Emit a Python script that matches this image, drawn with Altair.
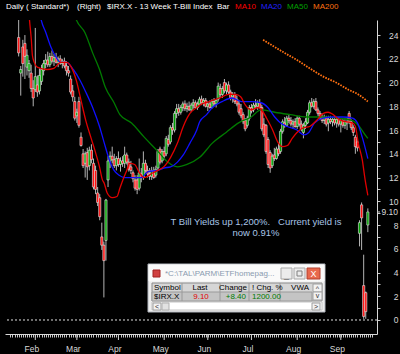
import altair as alt
import pandas as pd

# ---------------- data (trading-day index 0 = 1 Feb 2008) ----------------
FIRST_DAY = -8
opens = [23.8, 20.8, 23.0, 23.3, 21.3, 21.0, 20.8, 19.5,
         19.4, 19.8, 19.3, 20.1, 21.0, 21.6, 21.9, 21.5, 22.2, 21.8,
         22.1, 21.7, 22.0, 21.6, 21.8, 21.4, 21.0, 20.3, 19.3, 18.4,
         17.2, 18.4, 15.4, 14.0, 13.2, 14.1, 13.0, 14.3, 13.2, 12.6,
         10.7, 10.3, 7.0, 6.3, 6.7, 11.8, 13.4, 13.8, 13.5, 13.0,
         13.6, 13.1, 13.4, 13.2, 13.9, 13.3, 12.9, 12.4, 11.8, 11.8,
         11.1, 12.3, 12.0, 13.2, 12.6, 12.3, 12.1, 12.6, 12.2, 12.8,
         14.4, 13.4, 14.2, 14.0, 15.2, 15.0, 16.2, 16.0, 17.4, 17.8,
         17.5, 17.9, 18.2, 17.8, 18.0, 17.7, 18.1, 18.3, 17.9, 18.2,
         18.6, 18.3, 18.5, 18.0, 18.2, 17.9, 18.4, 18.2, 18.6, 19.5,
         19.0, 20.0, 19.3, 19.8, 19.2, 18.8, 19.0, 18.6, 18.2, 17.8,
         17.3, 16.8, 16.4, 17.0, 17.9, 17.7, 18.1, 18.0, 18.3, 17.9,
         16.5, 16.4, 15.2, 14.1, 13.0, 13.9, 13.6, 14.4, 14.2, 15.9,
         16.6, 16.4, 17.0, 16.8, 16.5, 16.7, 16.3, 17.0, 16.5, 15.8,
         16.4, 16.6, 17.5, 18.3, 18.0, 18.4, 17.7, 17.4, 17.1, 16.8,
         17.0, 16.6, 16.9, 16.7, 16.9, 16.6, 16.9, 16.5, 16.8, 16.4,
         16.7, 17.4, 16.7, 16.2, 15.4, 15.0, 7.3, 9.7, 2.9, 2.3, 8.0]
highs = [25.5, 21.4, 23.6, 24.0, 22.8, 21.9, 21.5, 20.2,
         24.6, 20.6, 21.2, 21.5, 21.9, 22.4, 22.6, 22.5, 22.7, 22.4,
         22.5, 22.2, 22.3, 22.0, 22.1, 21.8, 21.4, 20.6, 19.8, 18.8,
         17.8, 18.8, 15.8, 14.4, 14.2, 14.5, 14.6, 14.8, 13.6, 13.0,
         11.2, 10.6, 8.2, 6.6, 10.2, 13.8, 14.2, 14.6, 14.0, 13.8,
         14.2, 13.7, 13.8, 14.6, 14.1, 13.6, 13.4, 12.6, 12.2, 12.2,
         13.6, 12.8, 14.2, 13.5, 13.0, 12.8, 12.9, 12.9, 13.0, 14.4,
         14.6, 14.4, 14.6, 15.5, 15.6, 16.4, 16.6, 17.6, 18.2, 18.2,
         18.1, 18.4, 18.5, 18.3, 18.4, 18.3, 18.6, 18.5, 18.4, 18.8,
         18.9, 18.7, 18.7, 18.4, 18.5, 18.6, 18.7, 18.6, 20.0, 19.9,
         19.7, 20.3, 20.0, 20.1, 19.4, 19.2, 19.2, 18.9, 18.5, 18.2,
         17.5, 17.0, 17.2, 18.1, 18.2, 18.3, 18.6, 18.5, 18.6, 18.1,
         17.0, 16.5, 15.4, 14.3, 14.0, 14.5, 14.6, 14.9, 16.1, 16.9,
         17.1, 17.2, 17.3, 17.1, 16.9, 17.0, 17.2, 17.2, 16.8, 16.6,
         17.0, 17.7, 18.5, 18.7, 18.6, 18.7, 17.9, 17.6, 17.4, 17.3,
         17.2, 17.2, 17.2, 17.1, 17.2, 17.1, 17.1, 17.0, 17.0, 17.0,
         17.0, 17.6, 16.9, 16.4, 15.6, 15.2, 8.4, 9.9, 5.5, 2.4, 9.4]
lows = [22.2, 18.9, 20.5, 20.3, 20.6, 20.4, 19.2, 18.0,
        19.2, 18.8, 19.0, 19.8, 20.6, 21.2, 21.3, 21.3, 21.6, 21.4,
        21.6, 21.3, 21.5, 21.2, 21.2, 20.6, 20.5, 19.0, 18.4, 16.8,
        16.6, 16.2, 14.6, 12.8, 12.0, 11.8, 12.6, 13.2, 11.0, 10.6,
        9.6, 8.4, 5.9, 1.9, 5.0, 11.2, 12.8, 13.2, 12.8, 12.6,
        12.9, 12.5, 12.9, 12.8, 13.1, 12.5, 12.3, 11.6, 10.9, 10.6,
        10.9, 11.6, 11.8, 12.4, 12.0, 11.8, 11.8, 11.9, 12.0, 12.6,
        13.1, 13.2, 13.5, 13.8, 14.6, 14.8, 15.6, 15.8, 17.0, 17.2,
        17.3, 17.6, 17.6, 17.5, 17.6, 17.5, 17.8, 17.8, 17.7, 18.0,
        18.1, 18.0, 17.9, 17.6, 17.8, 17.8, 18.0, 17.9, 18.4, 18.8,
        18.7, 19.1, 19.0, 19.0, 18.5, 18.3, 18.2, 18.0, 17.3, 17.0,
        16.5, 15.9, 16.2, 16.8, 17.4, 17.5, 17.8, 17.7, 17.8, 15.9,
        15.4, 14.0, 12.8, 12.4, 12.8, 13.4, 13.5, 13.8, 14.0, 15.7,
        16.2, 16.3, 16.6, 16.3, 16.1, 16.2, 16.1, 16.3, 15.9, 15.3,
        16.1, 16.5, 17.3, 17.9, 17.8, 17.6, 17.2, 16.9, 16.6, 16.5,
        16.3, 15.9, 16.5, 16.3, 16.4, 16.2, 16.3, 15.8, 16.2, 16.1,
        16.0, 16.5, 16.0, 15.5, 14.0, 14.2, 6.2, 5.9, 0.1, 0.1, 7.4]
closes = [22.5, 21.1, 21.6, 22.2, 22.3, 21.6, 19.5, 18.7,
          20.5, 19.2, 20.6, 21.1, 21.6, 21.9, 21.5, 22.2, 21.8, 22.1,
          21.7, 22.0, 21.6, 21.8, 21.4, 21.0, 20.8, 19.2, 18.8, 17.0,
          17.5, 16.4, 14.7, 13.0, 14.0, 12.9, 14.3, 13.5, 11.2, 11.0,
          9.9, 8.7, 6.3, 5.0, 10.1, 13.4, 13.8, 13.5, 13.0, 13.6,
          13.1, 13.4, 13.2, 13.9, 13.3, 12.7, 12.6, 11.9, 11.1, 11.0,
          12.4, 12.0, 13.2, 12.6, 12.3, 12.1, 12.6, 12.0, 12.7, 14.2,
          13.3, 14.2, 13.8, 15.3, 14.8, 16.2, 16.0, 17.4, 17.8, 17.5,
          17.9, 18.2, 17.8, 18.0, 17.7, 18.1, 18.3, 17.9, 18.2, 18.6,
          18.3, 18.5, 18.0, 18.2, 17.9, 18.4, 18.2, 18.5, 19.7, 19.0,
          19.5, 19.3, 19.8, 19.2, 18.7, 19.0, 18.4, 18.2, 17.5, 17.2,
          16.7, 16.1, 17.0, 17.9, 17.6, 18.1, 18.0, 18.3, 17.9, 16.1,
          15.6, 14.2, 13.1, 12.8, 13.8, 13.6, 14.4, 14.0, 15.9, 16.7,
          16.4, 17.0, 16.8, 16.5, 16.7, 16.3, 17.0, 16.5, 16.1, 16.4,
          16.7, 17.5, 18.3, 18.0, 18.4, 17.7, 17.4, 17.1, 16.8, 17.1,
          16.5, 16.9, 16.7, 16.9, 16.6, 16.9, 16.5, 16.8, 16.4, 16.7,
          16.6, 16.7, 16.2, 15.8, 14.6, 14.5, 8.2, 8.6, 0.3, 0.7, 9.1]

ma10_i = [-3.5, -2.8, -1.9, -1.4, -0.5, 0.9, 5.6, 8.9, 12.2, 15, 17.3, 19.7, 22, 24.3, 26.7, 29,
          30.9, 32.3, 33.2, 34.6, 37, 39.3, 40.7, 42.6, 44, 45.4, 47.8, 50.1, 52.4, 56.6, 59,
          61.8, 65.1, 68.4, 71.2, 74.4, 77.7, 79.1, 83.8, 88.5, 93.2, 96.4, 98.8, 101.1, 103.9,
          107.2, 109.6, 111.9, 114.2, 116.6, 118.9, 121.3, 123.6, 125.9, 129.2, 132, 135.3,
          138.6, 140.9, 143.3, 146.1, 149.3, 152.6, 154, 155.4, 157.3, 158.7, 160]
ma10_v = [27.0, 25.3, 23.6, 22.3, 21.7, 21.3, 21.1, 21.2, 21.7, 21.7, 21.3, 20.2, 18.5, 16.8, 15.4,
          14.1, 12.9, 11.8, 11.5, 10.7, 10.3, 10.4, 11.1, 12.0, 12.6, 13.2, 13.1, 12.4, 12.0,
          12.4, 12.6, 12.9, 13.7, 14.9, 16.3, 17.4, 17.9, 18.1, 18.4, 18.7, 19.0, 19.0, 18.8,
          18.1, 17.7, 17.9, 17.5, 16.8, 16.0, 15.0, 14.6, 14.7, 15.3, 15.8, 16.2, 16.3, 16.8,
          17.4, 17.5, 17.3, 16.9, 16.7, 16.6, 16.3, 14.9, 13.5, 11.8, 10.5]
ma20_i = [2.0, 2.8, 5.1, 7.5, 9.8, 12.2, 15, 18.3, 21.5, 24.3, 27.6, 30.9, 33.2, 35.6, 37.9, 40.3,
          43.1, 46.3, 51, 54.3, 59, 61.8, 65.1, 68.4, 71.2, 74.4, 77.7, 79.1, 82.4, 85.2, 89.9,
          94.6, 99.3, 103.9, 108.6, 111.9, 115.2, 118, 121.3, 125.9, 129.2, 131.6, 134.4,
          138.6, 143.3, 147.9, 152.6, 155, 157.3, 160]
ma20_v = [26.0, 25.3, 24.2, 23.0, 22.2, 21.7, 21.7, 21.1, 20.2, 19.2, 17.9, 16.3, 14.9, 13.5, 12.6,
          12.2, 12.0, 12.0, 12.0, 12.5, 12.6, 12.8, 12.9, 13.3, 13.9, 14.9, 16.0, 16.7, 17.3,
          17.9, 18.4, 18.7, 18.4, 18.4, 18.3, 17.9, 17.1, 16.6, 16.3, 16.0, 15.6, 15.8, 16.6,
          17.0, 17.1, 17.1, 17.0, 16.6, 15.4, 13.6]
ma50_i = [18.0, 19.7, 23.9, 27.6, 30.9, 33.7, 37.9, 40.7, 46.3, 52.4, 59, 63.7, 68.4, 73, 79.1, 85.2,
          91.8, 97.8, 103.9, 108.6, 115.2, 122.7, 130.6, 138.6, 146.1, 152.6, 155.4, 158.7, 160]
ma50_v = [26.2, 25.3, 24.2, 22.5, 21.1, 19.6, 18.3, 17.3, 16.6, 15.4, 14.2, 13.3, 12.9, 13.1, 13.7,
          14.9, 15.8, 16.6, 17.1, 17.7, 17.5, 17.3, 17.1, 17.1, 17.0, 16.8, 16.4, 15.6, 15.3]
ma200_i = [109.6, 113.3, 119.9, 125.9, 132, 138.6, 144.7, 150.7, 155.4, 160]
ma200_v = [23.6, 23.2, 22.5, 21.9, 21.2, 20.5, 20.0, 19.4, 19.0, 18.4]

month_idx = [0, 20, 40, 62, 83, 104, 126, 147]
month_names = ["Feb", "Mar", "Apr", "May", "Jun", "Jul", "Aug", "Sep"]
y_ticks = list(range(0, 25))

# ---------------- layout ----------------
W, H = 372, 314
OX, OY = 5, 20
FONT = "Liberation Sans"
xs = alt.Scale(domain=[-12.17, 162.0], nice=False, zero=False)
ys = alt.Scale(domain=[-1.18, 25.27], nice=False, zero=False)

days = list(range(FIRST_DAY, FIRST_DAY + len(closes)))
candles = pd.DataFrame({"i": days, "o": opens, "h": highs, "l": lows, "c": closes})

label_expr = "".join(f"datum.value == {m} ? '{n}' : " for m, n in zip(month_idx, month_names)) + "''"

x_axis = alt.Axis(values=list(range(-12, 163)), labelExpr=label_expr, tickSize=3,
                  tickColor="#c8c8c8", domainColor="#d8d8d8", labelColor="#d8d8d8",
                  labelFont=FONT, labelFontSize=8.5, labelPadding=7, labelOffset=-4,
                  labelOverlap=False, labelFlush=False, labelBound=False, grid=False, title=None)
y_axis = alt.Axis(orient="right", values=y_ticks,
                  labelExpr="datum.value % 2 == 0 ? datum.value : ''", tickSize=3,
                  tickColor="#c8c8c8", domainColor="#d8d8d8", labelColor="#d8d8d8",
                  labelFont=FONT, labelFontSize=8.5, labelAlign="right", labelPadding=18,
                  labelOverlap=False, labelBound=False, grid=False, title=None)


def X(field):
    return alt.X(field, scale=xs, axis=x_axis)


def Y(field):
    return alt.Y(field, scale=ys, axis=y_axis)


base = alt.Chart(candles)
wicks = base.mark_rule(clip=True, color="#b4b4b4", strokeWidth=1).encode(
    x=X("i:Q"), y=Y("l:Q"), y2="h:Q")
bodies = base.mark_bar(clip=True, size=2.2, stroke="#e6e6e6", strokeWidth=0.6).encode(
    x=X("i:Q"), y=Y("o:Q"), y2="c:Q",
    color=alt.condition("datum.c >= datum.o", alt.value("#00a000"), alt.value("#ff1010")),
)


def ma_layer(ii, vv, color, dash=None, width=1.3):
    df = pd.DataFrame({"i": ii, "v": vv})
    kw = dict(clip=True, interpolate="monotone", color=color, strokeWidth=width)
    if dash:
        kw["strokeDash"] = dash
    return alt.Chart(df).mark_line(**kw).encode(x=X("i:Q"), y=Y("v:Q"))


ma50 = ma_layer(ma50_i, ma50_v, "#007a00")
ma20 = ma_layer(ma20_i, ma20_v, "#1010ff")
ma10 = ma_layer(ma10_i, ma10_v, "#e00000")
ma200 = ma_layer(ma200_i, ma200_v, "#ff7010", dash=[1.6, 1.2], width=1.8)

zero_line = alt.Chart(pd.DataFrame({"v": [0]})).mark_rule(
    color="#e0e0e0", strokeDash=[2, 2], strokeWidth=1).encode(y=Y("v:Q"))

month_ticks = alt.Chart(pd.DataFrame({"i": month_idx})).mark_rule(
    color="#d0d0d0", strokeWidth=1).encode(
    x=X("i:Q"), y=alt.value(H), y2=alt.value(H + 6))

last_df = pd.DataFrame({"v": [closes[-1]], "t": [f"{closes[-1]:.2f}"]})
last_tick = alt.Chart(last_df).mark_rule(color="#c8c8c8").encode(
    y=Y("v:Q"), x=alt.value(W), x2=alt.value(W + 3))
last_label = alt.Chart(last_df).mark_text(
    align="right", baseline="middle", font=FONT, fontSize=8.5, color="#d8d8d8").encode(
    y=Y("v:Q"), x=alt.value(398 - OX), text="t:N")

# ---------------- header text ----------------
header = pd.DataFrame({
    "x": [6, 77, 107, 217, 235, 261, 287, 313],
    "y": [7] * 8,
    "t": ["Daily ( Standard*)", "(Right)", "$IRX.X - 13 Week T-Bill Index", "Bar",
          "MA10", "MA20", "MA50", "MA200"],
    "col": ["#ffffff"] * 4 + ["#ff0000", "#2020ff", "#00a000", "#ff7010"],
})
header["x"] -= OX
header["y"] -= OY
header_text = alt.Chart(header).mark_text(
    align="left", baseline="middle", font=FONT, fontSize=8).encode(
    x=alt.X("x:Q", scale=None), y=alt.Y("y:Q", scale=None),
    text="t:N", color=alt.Color("col:N", scale=None))

note = pd.DataFrame({
    "x": [256, 256], "y": [222, 233],
    "t": ["T Bill Yields up 1,200%.\u00a0\u00a0 Current yield is", "now 0.91%"],
})
note["x"] -= OX
note["y"] -= OY
note_text = alt.Chart(note).mark_text(
    align="center", baseline="middle", font=FONT, fontSize=9.5, color="#a8c4e6").encode(
    x=alt.X("x:Q", scale=None), y=alt.Y("y:Q", scale=None), text="t:N")

# ---------------- quote window ----------------
rects = pd.DataFrame([
    (148, 264, 325, 312, "#eeeeee", "#b0b4bc"),
    (149, 265, 324, 281, "#fafafa", "#fafafa"),
    (153, 270, 160, 277, "#d04040", "#a02020"),
    (281, 268, 292, 279, "#ececec", "#a8a8a8"),
    (294, 268, 305, 279, "#ececec", "#a8a8a8"),
    (297, 271, 302, 276, "#ececec", "#808080"),
    (307, 268, 320, 279, "#e8684c", "#b04030"),
    (152, 283, 322, 301, "#d6d6d6", "#8c8c8c"),
    (152, 292, 312, 301, "#c4c4c4", "#9a9a9a"),
    (313, 284, 322, 292, "#f2f2f2", "#a0a0a0"),
    (313, 292, 322, 300, "#f2f2f2", "#a0a0a0"),
    (152, 302, 322, 310, "#ffffff", "#c4c4c4"),
    (153, 303, 161, 310, "#f2f2f2", "#a0a0a0"),
    (162, 303, 169, 310, "#e2e2e2", "#b0b0b0"),
    (312, 303, 320, 310, "#f2f2f2", "#a0a0a0"),
], columns=["x", "y", "x2", "y2", "fill", "stroke"])
for col in ("x", "x2"):
    rects[col] -= OX
for col in ("y", "y2"):
    rects[col] -= OY
window_rects = alt.Chart(rects).mark_rect(strokeWidth=1).encode(
    x=alt.X("x:Q", scale=None), x2="x2:Q", y=alt.Y("y:Q", scale=None), y2="y2:Q",
    fill=alt.Fill("fill:N", scale=None), stroke=alt.Stroke("stroke:N", scale=None))

seps = pd.DataFrame({"x": [182, 220, 249, 280], "y": [283] * 4, "y2": [301] * 4})
seps["x"] -= OX
seps["y"] -= OY
seps["y2"] -= OY
window_seps = alt.Chart(seps).mark_rule(color="#9a9a9a").encode(
    x=alt.X("x:Q", scale=None), y=alt.Y("y:Q", scale=None), y2="y2:Q")

wtext = pd.DataFrame([
    (165, 273.5, r"*C:\TAL\PARM\ETFhomepag...", "#8a9ab0", "left", 8),
    (286.5, 275, "_", "#606060", "center", 9),
    (313.5, 274, "X", "#ffffff", "center", 9),
    (154, 288, "Symbol", "#000000", "left", 8),
    (200, 288, "Last", "#000000", "center", 8),
    (247, 288, "Change", "#000000", "right", 8),
    (252, 288, "! Chg. %", "#000000", "left", 8),
    (309, 288, "VWA", "#000000", "right", 8),
    (154, 296.5, "$IRX.X", "#000000", "left", 8),
    (201, 296.5, "9.10", "#e00000", "center", 8),
    (246, 296.5, "+8.40", "#007a00", "right", 8),
    (252, 296.5, "1200.00", "#007a00", "left", 8),
    (317.5, 289, "^", "#303030", "center", 7),
    (317.5, 295.5, "v", "#303030", "center", 7),
    (157, 306.5, "<", "#303030", "center", 7),
    (316, 306.5, ">", "#303030", "center", 7),
], columns=["x", "y", "t", "col", "align", "size"])
wtext["x"] -= OX
wtext["y"] -= OY
window_texts = []
for al in ("left", "center", "right"):
    sub = wtext[wtext["align"] == al]
    window_texts.append(alt.Chart(sub).mark_text(
        align=al, baseline="middle", font=FONT).encode(
        x=alt.X("x:Q", scale=None), y=alt.Y("y:Q", scale=None), text="t:N",
        color=alt.Color("col:N", scale=None), size=alt.Size("size:Q", scale=None)))

chart = alt.layer(
    wicks, bodies, ma50, ma20, ma10, ma200, zero_line, month_ticks, last_tick, last_label,
    header_text, note_text, window_rects, window_seps, *window_texts,
).properties(
    width=W, height=H,
    padding={"left": OX, "top": OY, "right": 400 - OX - W, "bottom": 354 - OY - H},
    autosize=alt.AutoSizeParams(type="none"),
    background="#000000",
).configure_view(stroke=None)

chart.save("out.html", embed_options={"renderer": "svg", "actions": False})
